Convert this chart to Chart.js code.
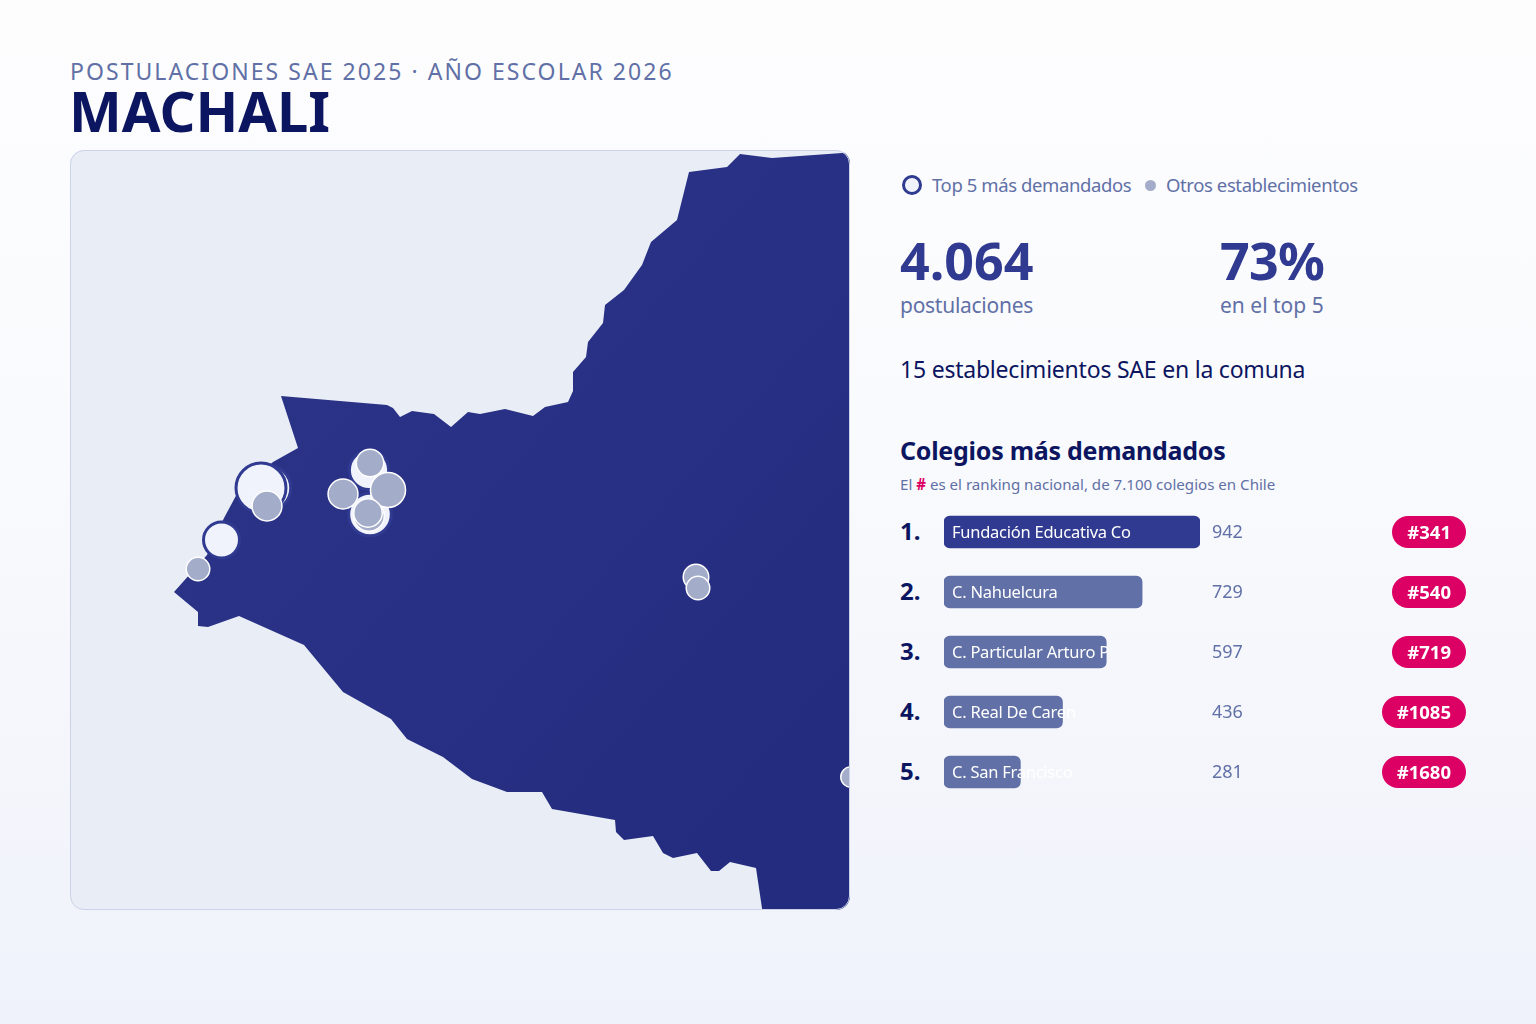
<!DOCTYPE html>
<html lang="es">
<head>
<meta charset="utf-8">
<title>Machali</title>
<script src="https://cdn.jsdelivr.net/npm/chart.js@4"></script>
<style>
  html, body { margin: 0; padding: 0; }
  body {
    width: 1536px; height: 1024px; position: relative; overflow: hidden;
    background: linear-gradient(180deg, #fdfdfe 0%, #f9fafd 45%, #eff2fa 100%);
    font-family: "Noto Sans", sans-serif; color: #0c1560;
  }
  .t { position: absolute; white-space: nowrap; line-height: 1; }
  .soft { color: #6170a6; }
  .big { font-weight: 700; font-size: 52px; color: #303a90; }
  .legend { font-size: 18.5px; letter-spacing: -0.4px; top: 176px; }
  #mapBox {
    position: absolute; left: 70px; top: 150px; width: 780px; height: 760px;
    border-radius: 14px; overflow: hidden; background: #e9edf6;
  }
  #mapBox canvas { position: absolute; left: 0; top: 0; }
  #mapFrame {
    position: absolute; left: 70px; top: 150px; width: 780px; height: 760px; box-sizing: border-box;
    border-radius: 14px; border: 1px solid #ccd3e8; pointer-events: none;
  }
  #barBox { position: absolute; left: 944px; top: 502px; width: 256px; height: 300px; }
  .badge {
    position: absolute; right: 70px; height: 32px; line-height: 32px; padding: 0 15px; border-radius: 16px;
    background: #dc0064; color: #fff; font-weight: 700; font-size: 18.5px; white-space: nowrap;
  }
</style>
</head>
<body>
<div class="t soft" style="left:70px;top:60px;font-size:23px;letter-spacing:2.05px">POSTULACIONES SAE 2025 · AÑO ESCOLAR 2026</div>
<div class="t" style="left:69px;top:82px;font-size:56px;font-weight:700">MACHALI</div>

<div id="mapBox"><canvas id="mapChart" width="780" height="760"></canvas></div>
<div id="mapFrame"></div>

<div style="position:absolute;left:902px;top:175px;width:20px;height:20px;box-sizing:border-box;border:3px solid #303a90;border-radius:50%;background:#f0f3fb"></div>
<div class="t soft legend" style="left:932px">Top 5 más demandados</div>
<div style="position:absolute;left:1145px;top:180px;width:11px;height:11px;border-radius:50%;background:#a3acc9"></div>
<div class="t soft legend" style="left:1166px">Otros establecimientos</div>

<div class="t big" style="left:900px;top:234px">4.064</div>
<div class="t soft" style="left:900px;top:295px;font-size:21px;letter-spacing:-0.27px">postulaciones</div>
<div class="t big" style="left:1220px;top:234px;letter-spacing:-0.8px">73%</div>
<div class="t soft" style="left:1220px;top:295px;font-size:21px">en el top 5</div>

<div class="t" style="left:900px;top:358px;font-size:23px;letter-spacing:-0.22px">15 establecimientos SAE en la comuna</div>
<div class="t" style="left:900px;top:438px;font-size:25px;font-weight:700;letter-spacing:-0.26px">Colegios más demandados</div>
<div class="t soft" style="left:900px;top:477px;font-size:15.1px">El <b style="color:#dc0064">#</b> es el ranking nacional, de 7.100 colegios en Chile</div>

<div id="barBox"><canvas id="barChart" width="256" height="300"></canvas></div>
<div id="rows"></div>

<script>
// colegios top 5
const schools = ["Fundación Educativa Co", "C. Nahuelcura", "C. Particular Arturo P", "C. Real De Caren", "C. San Francisco"];
const applications = [942, 729, 597, 436, 281];
const ranking = ["#341", "#540", "#719", "#1085", "#1680"];

// contorno de la comuna, en unidades del mapa
const borderX = [211, 317, 323, 330, 342, 364, 381, 398, 410, 435, 463, 475, 498, 503, 503, 516, 518, 533, 535, 554, 572, 581, 607, 619, 657, 670, 702, 772, 785, 785, 693, 686, 660, 649, 641, 627, 603, 593, 583, 554, 546, 545, 482, 472, 437, 402, 373, 337, 321, 273, 234, 169, 138, 128, 128, 104, 137, 154, 168, 203, 228, 211];
const borderY = [246, 255, 258, 267, 261, 264, 277, 262, 264, 259, 266, 257, 252, 241, 222, 207, 192, 173, 155, 140, 115, 92, 70, 22, 17, 4, 8, 3, 2, 765, 765, 718, 712, 721, 721, 703, 708, 703, 686, 690, 682, 670, 659, 642, 642, 629, 607, 589, 569, 542, 495, 466, 477, 476, 462, 442, 405, 368, 342, 312, 298, 246];

// establecimientos top 5, orden de dibujo
const topX = [198, 191, 151.5, 299, 300];
const topY = [338, 338, 390, 320, 364.5];
const topValues = [729, 942, 281, 436, 597];

// otros establecimientos, orden de dibujo
const otherX = [299, 197, 300, 318, 273, 298, 128, 626, 628, 781];
const otherY = [366, 356, 313, 340, 344, 363, 419, 427, 438, 627];
const otherValues = [137, 131, 108, 180, 131, 118, 71, 90, 71, 42];

function topRadius(v) { return 15 + 0.0106 * v; }
function otherRadius(v) { return 8 + 0.053 * v; }

let mapCtx = document.getElementById("mapChart").getContext("2d");
let mapFill = mapCtx.createLinearGradient(300, 100, 780, 520);
mapFill.addColorStop(0, "#2a3386");
mapFill.addColorStop(0.5, "#273084");
mapFill.addColorStop(1, "#232c7e");

function markers(xs, ys, values, radius) {
  return xs.map((x, i) => ({ x: x, y: ys[i], r: radius(values[i]) }));
}

new Chart(mapCtx, {
  type: "bubble",
  data: {
    datasets: [
      {
        type: "line",
        data: borderX.map((x, i) => ({ x: x, y: borderY[i] })),
        backgroundColor: mapFill,
        borderWidth: 0,
        pointRadius: 0,
        tension: 0,
        fill: "shape",
        order: 3,
      },
      {
        data: markers(topX, topY, topValues, topRadius),
        backgroundColor: "#f0f3fb",
        borderColor: "#303a90",
        borderWidth: 3,
        order: 2,
      },
      {
        data: markers(otherX, otherY, otherValues, otherRadius),
        backgroundColor: "#a3acc9",
        borderColor: "#ffffff",
        borderWidth: 1.5,
        order: 1,
      },
    ],
  },
  options: {
    responsive: false,
    animation: false,
    layout: { padding: 0, autoPadding: false },
    plugins: { legend: { display: false }, tooltip: { enabled: false } },
    scales: {
      x: { type: "linear", min: 0, max: 780, display: false },
      y: { type: "linear", min: 0, max: 760, reverse: true, display: false },
    },
  },
});

new Chart(document.getElementById("barChart").getContext("2d"), {
  type: "bar",
  data: {
    labels: schools,
    datasets: [
      {
        data: applications,
        backgroundColor: applications.map((v, i) => (i == 0 ? "#303a90" : "#6170a6")),
        borderRadius: 6,
        borderSkipped: false,
        barThickness: 32,
      },
    ],
  },
  options: {
    indexAxis: "y",
    responsive: false,
    animation: false,
    layout: { padding: 0, autoPadding: false },
    plugins: { legend: { display: false }, tooltip: { enabled: false } },
    scales: {
      x: { min: 0, max: 942, display: false },
      y: { display: false },
    },
  },
});

// filas: numero, nombre, postulaciones, ranking
let rows = document.getElementById("rows");
schools.forEach((name, i) => {
  let mid = 532 + i * 60;
  rows.insertAdjacentHTML("beforeend",
    `<div class="t" style="left:900px;top:${mid - 13}px;font-size:24px;font-weight:700">${i + 1}.</div>` +
    `<div class="t" style="left:952px;top:${mid - 8}px;font-size:16.5px;letter-spacing:-0.25px;color:#fff">${name}</div>` +
    `<div class="t soft" style="left:1212px;top:${mid - 10}px;font-size:18px">${applications[i]}</div>` +
    `<div class="badge" style="top:${mid - 16}px">${ranking[i]}</div>`);
});
</script>
</body>
</html>
